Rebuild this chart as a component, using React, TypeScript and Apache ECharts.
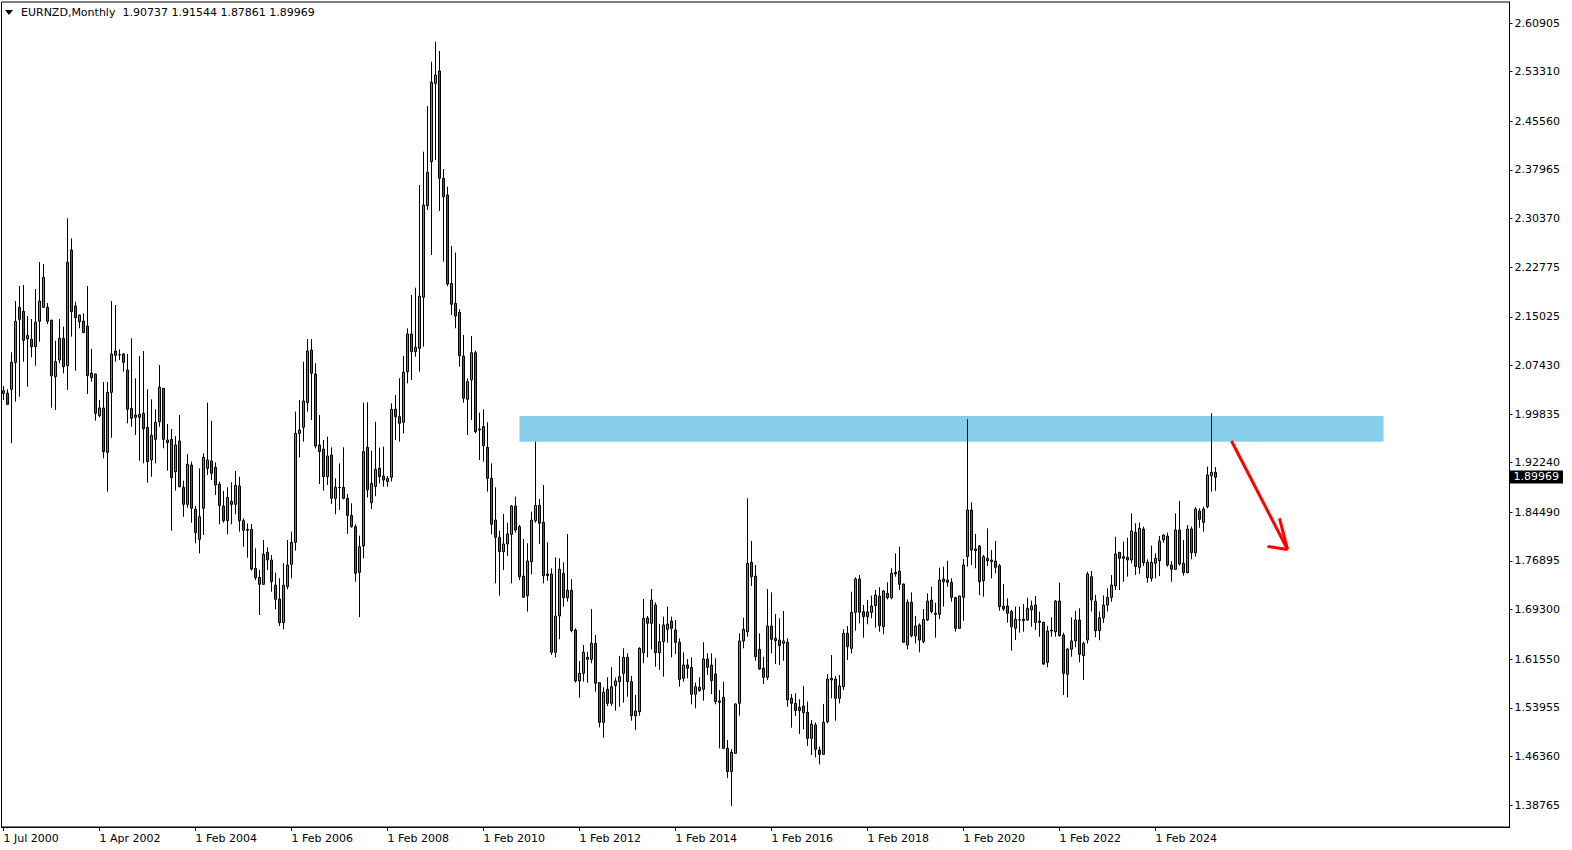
import React, { useEffect, useRef } from "react";
import * as echarts from "echarts";

const titleText = "EURNZD,Monthly  1.90737 1.91544 1.87861 1.89969";
const lastClose = 1.89969;

const xTickLabels = ["1 Jul 2000", "1 Apr 2002", "1 Feb 2004", "1 Feb 2006", "1 Feb 2008", "1 Feb 2010", "1 Feb 2012", "1 Feb 2014", "1 Feb 2016", "1 Feb 2018", "1 Feb 2020", "1 Feb 2022", "1 Feb 2024"];
const barsPerTick = 24;
const yTickLabels = [2.60905, 2.5331, 2.4556, 2.37965, 2.3037, 2.22775, 2.15025, 2.0743, 1.99835, 1.9224, 1.8449, 1.76895, 1.693, 1.6155, 1.53955, 1.4636, 1.38765];

const openPrices = [
  2.0307, 2.0307, 2.0369, 2.0791, 2.1650, 2.1587, 2.1160, 2.1150, 2.1035, 2.1431,
  2.1650, 2.1650, 2.1447, 2.0567, 2.0827, 2.1166, 2.0739, 2.2545, 2.1671, 2.1426,
  2.1436, 2.1358, 2.0624, 2.0609, 1.9958, 2.0078, 1.9385, 2.0322, 2.0968, 2.0910,
  2.0921, 2.0671, 2.0072, 1.9932, 1.9932, 1.9994, 1.9776, 1.9266, 1.9588, 1.9864,
  2.0385, 1.9578, 1.9588, 1.9083, 1.9562, 1.8839, 1.8573, 1.9187, 1.8495, 1.8027,
  1.8511, 1.9135, 1.9250, 1.9151, 1.8886, 1.8547, 1.8318, 1.8620, 1.8573, 1.8860,
  1.8318, 1.8183, 1.8183, 1.7573, 1.7433, 1.7324, 1.7823, 1.7704, 1.7313, 1.7094,
  1.6725, 1.7287, 1.7636, 1.7980, 1.9682, 1.9776, 2.0161, 2.0983, 2.0609, 1.9500,
  1.9437, 1.9005, 1.9344, 1.8667, 1.8839, 1.8839, 1.8667, 1.8401, 1.8224, 1.7511,
  1.7922, 1.9463, 1.8600, 1.8850, 1.9135, 1.9016, 1.8930, 1.8995, 2.0057, 1.9942,
  1.9854, 2.0645, 2.1233, 2.0957, 2.1010, 2.1806, 2.3238, 2.3925, 2.5148, 2.5341,
  2.3665, 2.3404, 2.2024, 2.1712, 2.1572, 2.0890, 2.0213, 2.0515, 2.0942, 1.9750,
  1.9786, 1.9463, 1.8979, 1.8328, 1.8058, 1.7834, 1.7954, 1.8105, 1.8547, 1.8224,
  1.7454, 1.7147, 1.7678, 1.8318, 1.8557, 1.8292, 1.7485, 1.7485, 1.6262, 1.6829,
  1.7495, 1.7115, 1.7230, 1.6610, 1.5814, 1.5934, 1.6184, 1.6152, 1.6402, 1.5788,
  1.5168, 1.5684, 1.5465, 1.5741, 1.5804, 1.5934, 1.6184, 1.5804, 1.5272, 1.5335,
  1.6256, 1.6798, 1.6715, 1.7001, 1.6256, 1.6428, 1.6621, 1.6751, 1.6611, 1.6418,
  1.5856, 1.6064, 1.6027, 1.5606, 1.5715, 1.5684, 1.6157, 1.6064, 1.5923, 1.5502,
  1.5559, 1.4762, 1.4400, 1.4684, 1.5465, 1.6439, 1.6584, 1.7667, 1.7454, 1.6308,
  1.6012, 1.5871, 1.6673, 1.6480, 1.6454, 1.6402, 1.6418, 1.5543, 1.5465, 1.5403,
  1.5423, 1.5324, 1.4918, 1.5127, 1.4736, 1.4669, 1.5178, 1.5830, 1.5845, 1.5543,
  1.5725, 1.6558, 1.6324, 1.6886, 1.7407, 1.6897, 1.6819, 1.6886, 1.6991, 1.7141,
  1.6662, 1.7183, 1.7115, 1.7511, 1.7532, 1.7329, 1.6376, 1.7043, 1.6517, 1.6689,
  1.6428, 1.6767, 1.7079, 1.6871, 1.6855, 1.7407, 1.7391, 1.7355, 1.7115, 1.6636,
  1.7121, 1.7756, 1.8485, 1.7876, 1.7922, 1.7381, 1.7730, 1.7704, 1.7688, 1.7615,
  1.6985, 1.6985, 1.6897, 1.6636, 1.6767, 1.6756, 1.6767, 1.6923, 1.7001, 1.6751,
  1.6730, 1.6105, 1.6595, 1.6584, 1.7063, 1.6532, 1.5918, 1.6309, 1.6439, 1.6767,
  1.6210, 1.6454, 1.7443, 1.7060, 1.6600, 1.6800, 1.7000, 1.7120, 1.7298, 1.7823,
  1.7756, 1.7745, 1.7704, 1.8136, 1.7589, 1.8188, 1.7428, 1.7417, 1.7652, 1.7693,
  1.8016, 1.8078, 1.7626, 1.7558, 1.8172, 1.7652, 1.7506, 1.8188, 1.7818, 1.8469,
  1.8292, 1.8537, 1.9021, 1.90737,
];

const highPrices = [
  2.0421, 2.0369, 2.0947, 2.1749, 2.1983, 2.1999, 2.1514, 2.1467, 2.1936, 2.2358,
  2.2326, 2.1717, 2.1460, 2.1129, 2.1467, 2.1348, 2.3040, 2.2727, 2.1738, 2.1535,
  2.1556, 2.1983, 2.1004, 2.0615, 2.0202, 2.0484, 2.0484, 2.1749, 2.1686, 2.0994,
  2.0931, 2.0921, 2.1166, 2.0541, 2.0890, 2.0968, 2.0369, 2.0213, 2.0057, 2.0749,
  2.0390, 1.9828, 1.9750, 1.9640, 1.9968, 1.8943, 1.9359, 1.9240, 1.8547, 1.9135,
  1.9370, 2.0161, 1.9880, 1.9229, 1.8927, 1.8781, 1.8839, 1.8917, 1.9094, 1.9005,
  1.8354, 1.8276, 1.8266, 1.7886, 1.7547, 1.8016, 1.7901, 1.7782, 1.7506, 1.7418,
  1.7652, 1.8016, 1.8146, 2.0020, 2.0203, 2.0801, 2.1155, 2.1155, 2.0775, 1.9968,
  1.9578, 1.9630, 1.9463, 1.8979, 1.9213, 1.9463, 1.8735, 1.8589, 1.8261, 1.8084,
  2.0161, 2.0166, 1.9411, 1.9864, 1.9458, 1.9474, 1.9016, 2.0150, 2.0281, 2.0541,
  2.0890, 2.1322, 2.1842, 2.1957, 2.3561, 2.4081, 2.4794, 2.5487, 2.5799, 2.5653,
  2.3810, 2.3534, 2.2608, 2.2504, 2.1619, 2.1218, 2.0541, 2.1202, 2.0973, 2.0005,
  2.0057, 1.9854, 1.9213, 1.8839, 1.8162, 1.8422, 1.8287, 1.8563, 1.8693, 1.8250,
  1.8032, 1.7964, 1.8458, 1.9552, 1.8656, 1.8875, 1.7980, 1.7573, 1.7745, 1.7730,
  1.7667, 1.8110, 1.7402, 1.6636, 1.6126, 1.6376, 1.6272, 1.6938, 1.6532, 1.5795,
  1.5715, 1.5871, 1.6027, 1.5866, 1.6204, 1.6324, 1.6246, 1.5892, 1.5595, 1.6340,
  1.7095, 1.6829, 1.7251, 1.7042, 1.6704, 1.6819, 1.6975, 1.6819, 1.6767, 1.6480,
  1.6262, 1.6157, 1.6184, 1.5788, 1.5871, 1.6418, 1.6246, 1.6246, 1.6168, 1.5673,
  1.5804, 1.4892, 1.4752, 1.5465, 1.6558, 1.6803, 1.8667, 1.8000, 1.7626, 1.6558,
  1.6194, 1.7251, 1.7199, 1.6860, 1.6793, 1.6907, 1.6480, 1.5611, 1.5621, 1.5528,
  1.5736, 1.5491, 1.5205, 1.5168, 1.4788, 1.5455, 1.5923, 1.6220, 1.5892, 1.5908,
  1.6621, 1.6673, 1.7209, 1.7433, 1.7469, 1.7001, 1.7079, 1.7147, 1.7235, 1.7277,
  1.7235, 1.7355, 1.7574, 1.7808, 1.7912, 1.7335, 1.7089, 1.7199, 1.6829, 1.6714,
  1.6938, 1.7183, 1.7287, 1.7037, 1.7584, 1.7600, 1.7693, 1.7417, 1.7131, 1.7146,
  1.7719, 1.9901, 1.8604, 1.8110, 1.7938, 1.7782, 1.8198, 1.7860, 1.8001, 1.7641,
  1.7329, 1.7105, 1.6923, 1.6975, 1.6975, 1.7016, 1.7115, 1.7069, 1.7141, 1.6897,
  1.6740, 1.6673, 1.6808, 1.7079, 1.7350, 1.6569, 1.6324, 1.6808, 1.6907, 1.6949,
  1.6428, 1.7521, 1.7532, 1.7160, 1.6900, 1.7150, 1.7261, 1.7469, 1.8068, 1.7830,
  1.7990, 1.8052, 1.8432, 1.8276, 1.8287, 1.8224, 1.7714, 1.7928, 1.7808, 1.8078,
  1.8104, 1.8131, 1.7688, 1.8432, 1.8630, 1.8016, 1.8250, 1.8224, 1.8526, 1.8511,
  1.8537, 1.9161, 1.9994, 1.91544,
];

const lowPrices = [
  2.0202, 2.0124, 1.9526, 2.0176, 2.0255, 2.0801, 2.0411, 2.0869, 2.0739, 2.1113,
  2.1640, 2.1389, 2.0083, 2.0046, 2.0775, 2.0619, 2.0359, 2.1192, 2.0661, 2.1322,
  2.1250, 2.0296, 2.0489, 1.9880, 1.9932, 1.9291, 1.8771, 1.9614, 2.0801, 2.0827,
  2.0645, 1.9838, 1.9786, 1.9656, 1.9255, 1.9213, 1.8912, 1.9005, 1.9213, 1.9786,
  1.9448, 1.9099, 1.8162, 1.8787, 1.8839, 1.8380, 1.8521, 1.8287, 1.7964, 1.7808,
  1.8094, 1.9031, 1.8953, 1.8719, 1.8261, 1.8287, 1.8105, 1.8261, 1.8417, 1.8146,
  1.7912, 1.7740, 1.7537, 1.7391, 1.6845, 1.7313, 1.7547, 1.7209, 1.6933, 1.6673,
  1.6621, 1.7246, 1.7418, 1.7850, 1.9307, 1.9552, 2.0020, 1.9890, 1.9448, 1.8891,
  1.8787, 1.8875, 1.8578, 1.8417, 1.8485, 1.8652, 1.8110, 1.8209, 1.7365, 1.6811,
  1.7730, 1.8680, 1.8500, 1.8700, 1.8900, 1.8850, 1.8850, 1.8930, 1.9578, 1.9552,
  1.9682, 2.0463, 2.0515, 2.0879, 2.0645, 2.1036, 2.3170, 2.2467, 2.3951, 2.3154,
  2.2363, 2.1983, 2.1530, 2.1322, 2.0723, 2.0161, 1.9656, 1.9890, 1.9682, 1.9266,
  1.9239, 1.8771, 1.8105, 1.7339, 1.7147, 1.7547, 1.7766, 1.7339, 1.8131, 1.7391,
  1.7115, 1.6897, 1.7480, 1.8287, 1.7954, 1.7339, 1.7381, 1.6220, 1.6184, 1.6465,
  1.6975, 1.7053, 1.6574, 1.5788, 1.5554, 1.5804, 1.5788, 1.6090, 1.5647, 1.5090,
  1.4929, 1.5423, 1.5423, 1.5351, 1.5413, 1.5476, 1.5569, 1.5194, 1.5049, 1.5272,
  1.6090, 1.6184, 1.6308, 1.6038, 1.5986, 1.5882, 1.6413, 1.6184, 1.6236, 1.5725,
  1.5804, 1.5856, 1.5450, 1.5387, 1.5647, 1.5507, 1.5908, 1.5611, 1.5450, 1.4762,
  1.4750, 1.4300, 1.3860, 1.4674, 1.5272, 1.6324, 1.6506, 1.7298, 1.6131, 1.5986,
  1.5767, 1.5830, 1.6246, 1.6079, 1.6064, 1.6131, 1.5413, 1.5085, 1.5267, 1.4986,
  1.5059, 1.4799, 1.4658, 1.4622, 1.4512, 1.4660, 1.5153, 1.5543, 1.5194, 1.5465,
  1.5673, 1.6142, 1.6246, 1.6600, 1.6714, 1.6491, 1.6699, 1.6793, 1.6647, 1.6584,
  1.6543, 1.7089, 1.7089, 1.7443, 1.7235, 1.6412, 1.6309, 1.6496, 1.6402, 1.6262,
  1.6402, 1.6751, 1.6871, 1.6491, 1.6777, 1.6975, 1.7287, 1.7053, 1.6584, 1.6630,
  1.6756, 1.7600, 1.7626, 1.7574, 1.7157, 1.7131, 1.7610, 1.7417, 1.7495, 1.6912,
  1.6907, 1.6725, 1.6288, 1.6454, 1.6569, 1.6584, 1.6756, 1.6662, 1.6610, 1.6506,
  1.6064, 1.6027, 1.6506, 1.6506, 1.6506, 1.5595, 1.5559, 1.6194, 1.6340, 1.6105,
  1.5830, 1.6400, 1.6900, 1.6500, 1.6450, 1.6720, 1.6900, 1.7050, 1.7235, 1.7235,
  1.7365, 1.7443, 1.7652, 1.7469, 1.7485, 1.7610, 1.7350, 1.7365, 1.7417, 1.7454,
  1.7974, 1.7600, 1.7365, 1.7548, 1.7615, 1.7459, 1.7495, 1.7714, 1.7756, 1.8209,
  1.8146, 1.8511, 1.8771, 1.87861,
];

const closePrices = [
  2.0348, 2.0135, 2.0791, 2.1431, 2.1462, 2.1134, 2.1212, 2.1035, 2.1415, 2.1749,
  2.2118, 2.1431, 2.0582, 2.0801, 2.1166, 2.0723, 2.2353, 2.1582, 2.1488, 2.1530,
  2.1254, 2.0582, 2.0551, 1.9994, 2.0078, 1.9396, 2.0322, 2.0921, 2.0900, 2.0905,
  2.0791, 2.0057, 1.9916, 1.9968, 1.9979, 1.9755, 1.9240, 1.9651, 1.9854, 2.0400,
  1.9588, 1.9536, 1.8990, 1.9500, 1.8849, 1.8573, 1.9198, 1.8511, 1.8131, 1.8380,
  1.9307, 1.9266, 1.9057, 1.8875, 1.8553, 1.8318, 1.8682, 1.8573, 1.8870, 1.8318,
  1.8167, 1.8167, 1.7563, 1.7428, 1.7324, 1.7792, 1.7704, 1.7365, 1.7089, 1.6725,
  1.7308, 1.7626, 1.7980, 1.9682, 1.9734, 2.0187, 2.0968, 2.0619, 1.9484, 1.9396,
  1.9005, 1.9328, 1.8667, 1.8839, 1.8835, 1.8667, 1.8401, 1.8224, 1.7496, 1.7912,
  1.9396, 1.8800, 1.8900, 1.9120, 1.9005, 1.8953, 1.8979, 2.0057, 1.9942, 1.9838,
  2.0635, 2.1233, 2.0957, 2.1025, 2.1827, 2.3248, 2.3758, 2.5164, 2.5278, 2.3665,
  2.3378, 2.2014, 2.1697, 2.1514, 2.0895, 2.0229, 2.0489, 2.0942, 1.9708, 1.9734,
  1.9489, 1.8979, 1.8261, 1.8058, 1.7834, 1.7954, 1.8110, 1.8547, 1.8172, 1.7443,
  1.7121, 1.7688, 1.8328, 1.8557, 1.8276, 1.7459, 1.7459, 1.6262, 1.6829, 1.7558,
  1.7115, 1.7230, 1.6600, 1.5814, 1.5934, 1.6262, 1.6152, 1.6402, 1.5778, 1.5168,
  1.5637, 1.5465, 1.5725, 1.5814, 1.5882, 1.6184, 1.5804, 1.5272, 1.5345, 1.6324,
  1.6793, 1.6715, 1.7079, 1.6256, 1.6428, 1.6689, 1.6704, 1.6636, 1.6418, 1.5840,
  1.6064, 1.6012, 1.5606, 1.5725, 1.5663, 1.6157, 1.6027, 1.5819, 1.5491, 1.5481,
  1.4762, 1.4400, 1.4700, 1.5455, 1.6439, 1.6621, 1.7652, 1.7443, 1.6194, 1.6001,
  1.5871, 1.6673, 1.6465, 1.6444, 1.6366, 1.6439, 1.5517, 1.5465, 1.5351, 1.5351,
  1.5319, 1.4918, 1.5142, 1.4747, 1.4669, 1.5168, 1.5845, 1.5856, 1.5543, 1.5736,
  1.6558, 1.6350, 1.6886, 1.7407, 1.6886, 1.6819, 1.6892, 1.6985, 1.7157, 1.6678,
  1.7220, 1.7115, 1.7495, 1.7485, 1.7324, 1.6418, 1.7043, 1.6522, 1.6673, 1.6454,
  1.6777, 1.7063, 1.6897, 1.6855, 1.7391, 1.7365, 1.7355, 1.7121, 1.6636, 1.7141,
  1.7626, 1.8485, 1.7860, 1.7850, 1.7365, 1.7756, 1.7693, 1.7678, 1.7589, 1.6975,
  1.6938, 1.6871, 1.6662, 1.6777, 1.6770, 1.6777, 1.6949, 1.6985, 1.6725, 1.6730,
  1.6079, 1.6595, 1.6610, 1.7063, 1.6522, 1.5934, 1.6314, 1.6439, 1.6767, 1.6230,
  1.6402, 1.7485, 1.7079, 1.6600, 1.6800, 1.7000, 1.7120, 1.7313, 1.7797, 1.7730,
  1.7730, 1.7704, 1.8157, 1.7600, 1.8198, 1.7662, 1.7667, 1.7667, 1.7730, 1.8000,
  1.8094, 1.7626, 1.7558, 1.8172, 1.7641, 1.7506, 1.8188, 1.7818, 1.8500, 1.8339,
  1.8500, 1.9031, 1.9073, 1.89969,
];

// resistance zone drawn on the chart (bar index range and price range)
const zoneBars = [129, 345];
const zonePrices = [1.9953, 1.9551];
// hand-drawn arrow: [bar, price] points
const arrowStart = [307, 1.9562];
const arrowTip = [321, 1.7868];
const arrowHeadLeft = [316, 1.7916];
const arrowHeadUp = [319, 1.8355];

const totalSlots = 377;
const yMin = 1.35336;
const yMax = 2.64185;

const FONT = "DejaVu Sans";

export default function App() {
  const ref = useRef<HTMLDivElement>(null);
  useEffect(() => {
    if (!ref.current) return;
    const chart = echarts.init(ref.current, null, { renderer: "svg" });
    const categories = Array.from({ length: totalSlots }, (_, i) => String(i));
    const candles = openPrices.map((o, i) => [o, closePrices[i], lowPrices[i], highPrices[i]]);
    const showTick = (idx: number) => idx % barsPerTick === 0 && idx / barsPerTick < xTickLabels.length;

    chart.setOption({
      animation: false,
      backgroundColor: "#ffffff",
      grid: {
        left: 1.5,
        top: 2,
        width: totalSlots * 4,
        height: 825,
        show: true,
        borderColor: "#000",
        borderWidth: 1,
        backgroundColor: "transparent",
      },
      graphic: [
        { type: "polygon", shape: { points: [[5, 10], [13, 10], [9, 15]] }, style: { fill: "#000" } },
        {
          type: "text",
          left: 21,
          top: 7,
          style: { text: titleText, fill: "#000", font: `11px "${FONT}"` },
        },
      ],
      xAxis: {
        type: "category",
        data: categories,
        boundaryGap: true,
        axisLine: { show: true, lineStyle: { color: "#000", width: 1 } },
        axisTick: { show: true, interval: (i: number) => showTick(i), alignWithLabel: true, length: 4, lineStyle: { color: "#000" } },
        axisLabel: {
          interval: (i: number) => showTick(i),
          formatter: (_v: string, i: number) => xTickLabels[i / barsPerTick] ?? "",
          align: "left",
          margin: 6,
          color: "#000",
          fontSize: 11,
          fontFamily: FONT,
        },
        splitLine: { show: false },
      },
      yAxis: {
        type: "value",
        position: "right",
        min: yMin,
        max: yMax,
        scale: true,
        axisLine: { show: true, lineStyle: { color: "#000", width: 1 } },
        axisTick: { show: true, customValues: yTickLabels, length: 3, lineStyle: { color: "#000" } },
        axisLabel: {
          customValues: yTickLabels,
          formatter: (v: number) => v.toFixed(5),
          margin: 5,
          color: "#000",
          fontSize: 11,
          fontFamily: FONT,
        },
        splitLine: { show: false },
      },
      series: [
        {
          type: "line",
          data: [],
          z: 1,
          silent: true,
          markArea: {
            silent: true,
            itemStyle: { color: "#87CEEB", opacity: 1 },
            data: [[{ xAxis: zoneBars[0], yAxis: zonePrices[0] }, { xAxis: zoneBars[1], yAxis: zonePrices[1] }]],
          },
        },
        {
          type: "candlestick",
          z: 3,
          barWidth: 2,
          data: candles,
          itemStyle: {
            color: "#1ec31e",
            color0: "#e01e1e",
            borderColor: "#000",
            borderColor0: "#000",
            borderColorDoji: "#000",
            borderWidth: 1,
          },
        },
        {
          type: "line",
          data: [],
          z: 5,
          silent: true,
          markLine: {
            silent: true,
            symbol: ["none", "none"],
            lineStyle: { color: "rgba(0,0,0,0)", width: 1, type: "solid" },
            label: {
              show: true,
              position: "end",
              distance: 0,
              formatter: lastClose.toFixed(5),
              backgroundColor: "#000",
              color: "#fff",
              fontSize: 11,
              fontFamily: FONT,
              padding: [1, 4, 1, 4],
            },
            data: [{ yAxis: lastClose }],
          },
        },
        {
          type: "line",
          data: [],
          z: 4,
          silent: true,
          markLine: {
            silent: true,
            symbol: ["none", "none"],
            label: { show: false },
            lineStyle: { color: "#ff0000", width: 3, type: "solid" },
            data: [
              [{ coord: arrowStart }, { coord: arrowTip }],
              [{ coord: arrowHeadLeft }, { coord: arrowTip }],
              [{ coord: arrowHeadUp }, { coord: arrowTip }],
            ],
          },
        },
      ],
    });
    return () => chart.dispose();
  }, []);

  return <div ref={ref} style={{ position: "fixed", left: 0, top: 0, width: 1572, height: 850, background: "#fff" }} />;
}
